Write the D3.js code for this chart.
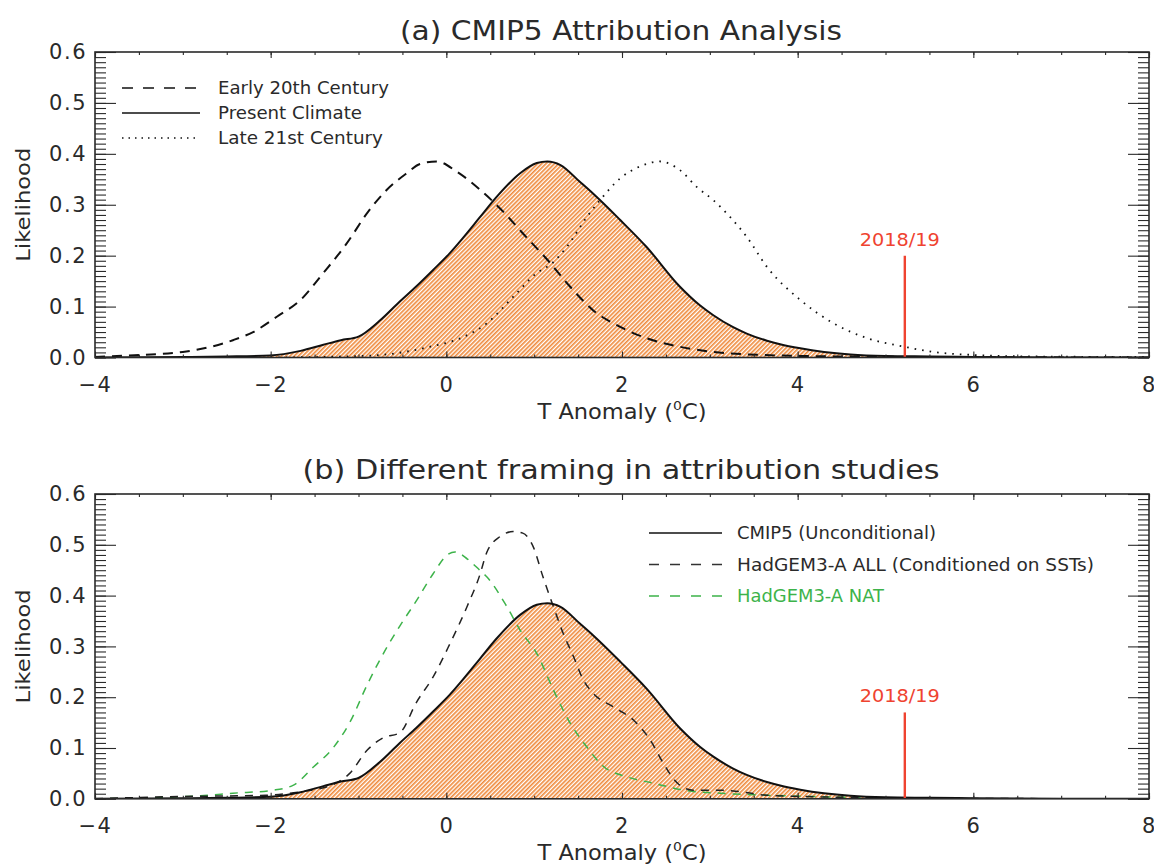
<!DOCTYPE html>
<html><head><meta charset="utf-8">
<script src="https://cdn.jsdelivr.net/npm/d3@7"></script>
<style>
body{margin:0;background:#fff;}
svg text{font-family:"DejaVu Sans",sans-serif;fill:#2a2a2a;}
</style></head>
<body><svg id="c" width="1154" height="867"></svg>
<script>
// ---------- data ----------
const xTicks = [-4, -2, 0, 2, 4, 6, 8];
const yTicks = [0, 0.1, 0.2, 0.3, 0.4, 0.5, 0.6];
const eventX = 5.22;
const eventLabel = "2018/19";

const presentX = [-4, -3, -2.5, -2, -1.66, -1.4, -1.2, -1.0, -0.76, -0.53, -0.34, -0.15, 0.04, 0.19, 0.38, 0.57, 0.84, 1.03, 1.15, 1.3, 1.52, 1.67, 1.98, 2.28, 2.66, 2.89, 3.04, 3.26, 3.42, 3.65, 3.8, 4.03, 4.3, 4.6, 5.0, 5.5, 6.0, 7.0, 8.0];
const presentY = [0, 0.001, 0.002, 0.004, 0.013, 0.025, 0.034, 0.041, 0.072, 0.11, 0.14, 0.172, 0.205, 0.235, 0.275, 0.315, 0.362, 0.382, 0.385, 0.378, 0.345, 0.322, 0.27, 0.217, 0.139, 0.102, 0.083, 0.06, 0.047, 0.033, 0.026, 0.018, 0.011, 0.006, 0.003, 0.002, 0.001, 0, 0];

const earlyX = [-4, -3.75, -3.0, -2.43, -2.2, -1.93, -1.66, -1.4, -1.13, -0.9, -0.68, -0.45, -0.3, -0.11, 0.12, 0.38, 0.65, 0.87, 1.15, 1.41, 1.67, 1.98, 2.28, 2.66, 3.04, 3.6, 4.5, 5.5, 8];
const earlyY = [0.001, 0.003, 0.011, 0.034, 0.05, 0.08, 0.113, 0.166, 0.225, 0.284, 0.329, 0.362, 0.38, 0.385, 0.365, 0.33, 0.286, 0.244, 0.192, 0.139, 0.093, 0.06, 0.038, 0.021, 0.011, 0.005, 0.002, 0.001, 0];

const lateX = [-2, -1.2, -0.75, -0.19, 0.19, 0.46, 0.76, 1.03, 1.21, 1.37, 1.6, 1.75, 1.98, 2.2, 2.43, 2.66, 2.85, 3.04, 3.23, 3.42, 3.65, 4.03, 4.4, 4.79, 5.22, 5.54, 6.0, 6.7, 8];
const lateY = [0, 0.002, 0.005, 0.021, 0.04, 0.067, 0.119, 0.166, 0.186, 0.217, 0.276, 0.309, 0.352, 0.375, 0.385, 0.368, 0.335, 0.309, 0.276, 0.237, 0.178, 0.113, 0.068, 0.038, 0.021, 0.011, 0.005, 0.002, 0.001];

const allX = [-4, -3.2, -2.05, -1.66, -1.29, -1.1, -0.9, -0.72, -0.53, -0.34, -0.15, 0.04, 0.24, 0.38, 0.46, 0.61, 0.76, 0.87, 0.99, 1.1, 1.22, 1.33, 1.45, 1.56, 1.67, 1.9, 2.13, 2.32, 2.47, 2.63, 2.81, 3.12, 3.34, 3.65, 4.5, 5.5, 8];
const allY = [0, 0.004, 0.007, 0.014, 0.028, 0.05, 0.096, 0.12, 0.13, 0.19, 0.24, 0.305, 0.38, 0.44, 0.485, 0.516, 0.526, 0.523, 0.496, 0.437, 0.378, 0.326, 0.279, 0.234, 0.208, 0.181, 0.155, 0.116, 0.07, 0.031, 0.017, 0.017, 0.014, 0.007, 0.003, 0.001, 0];

const natX = [-4, -2.8, -2.43, -1.97, -1.74, -1.51, -1.29, -1.1, -0.9, -0.72, -0.53, -0.34, -0.15, 0.01, 0.1, 0.24, 0.38, 0.46, 0.69, 0.84, 1.03, 1.22, 1.41, 1.6, 1.78, 2.06, 2.35, 2.74, 3.12, 3.65, 5, 6, 8];
const natY = [0, 0.006, 0.011, 0.017, 0.027, 0.063, 0.1, 0.15, 0.225, 0.285, 0.34, 0.39, 0.443, 0.48, 0.486, 0.472, 0.45, 0.437, 0.378, 0.332, 0.286, 0.214, 0.149, 0.102, 0.065, 0.043, 0.031, 0.016, 0.011, 0.007, 0.002, 0, 0];

const titleA = "(a) CMIP5 Attribution Analysis";
const titleB = "(b) Different framing in attribution studies";
const legendA = ["Early 20th Century", "Present Climate", "Late 21st Century"];
const legendB = ["CMIP5 (Unconditional)", "HadGEM3-A ALL (Conditioned on SSTs)", "HadGEM3-A NAT"];

// ---------- drawing ----------
const svg = d3.select("#c");
const L = 95, R = 1149;
const ORANGE = "#ef8a3c", RED = "#ef4330", GREEN = "#3db34a", INK = "#2a2a2a";

const defs = svg.append("defs");
const pat = defs.append("pattern").attr("id","hatch").attr("patternUnits","userSpaceOnUse")
  .attr("width",3).attr("height",3).attr("patternTransform","rotate(45)");
pat.append("rect").attr("width",3).attr("height",3).attr("fill","#fff");
pat.append("line").attr("x1",0.8).attr("y1",0).attr("x2",0.8).attr("y2",3)
  .attr("stroke",ORANGE).attr("stroke-width",1.7);

const x = d3.scaleLinear().domain([-4, 8]).range([L, R]);
const zip = (xs, ys) => xs.map((v,i)=>[v, ys[i]]);

function panel(id, top, bottom, opts){
  const y = d3.scaleLinear().domain([0, 0.6]).range([bottom, top]);
  const g = svg.append("g");
  defs.append("clipPath").attr("id","clip"+id).append("rect")
    .attr("x",L).attr("y",top).attr("width",R-L).attr("height",bottom-top);
  const plot = g.append("g").attr("clip-path",`url(#clip${id})`);
  const line = d3.line().x(d=>x(d[0])).y(d=>y(d[1])).curve(d3.curveMonotoneX);
  const area = d3.area().x(d=>x(d[0])).y0(y(0)).y1(d=>y(d[1])).curve(d3.curveMonotoneX);
  const present = zip(presentX, presentY);
  plot.append("path").attr("d", area(present)).attr("fill","url(#hatch)");

  opts.series.forEach(s=>{
    plot.append("path").attr("d", line(zip(s.x, s.y))).attr("fill","none")
      .attr("stroke", s.color).attr("stroke-width", s.w).attr("stroke-dasharray", s.dash || null);
  });

  // event marker
  plot.append("line").attr("x1",x(eventX)).attr("x2",x(eventX))
    .attr("y1",y(0)).attr("y2",y(opts.eventTop)).attr("stroke",RED).attr("stroke-width",2.4);
  g.append("text").attr("x",x(eventX)-5).attr("y",opts.eventLabelY).attr("text-anchor","middle")
    .style("fill",RED).style("font-size","17px").attr("textLength",80).attr("lengthAdjust","spacingAndGlyphs").text(eventLabel);

  // axes ticks
  const minorY = d3.range(0, 0.6001, 0.01);
  const minorX = d3.range(-4, 8.001, 0.5);
  const noFmt = ()=>"";
  const axY1 = g.append("g").attr("transform",`translate(${L},0)`)
    .call(d3.axisLeft(y).tickValues(minorY).tickSize(-11).tickFormat(noFmt));
  const axY2 = g.append("g").attr("transform",`translate(${L},0)`)
    .call(d3.axisLeft(y).tickValues(yTicks).tickSize(-21).tickFormat(noFmt));
  const axY3 = g.append("g").attr("transform",`translate(${R},0)`)
    .call(d3.axisRight(y).tickValues(minorY).tickSize(-11).tickFormat(noFmt));
  const axY4 = g.append("g").attr("transform",`translate(${R},0)`)
    .call(d3.axisRight(y).tickValues(yTicks).tickSize(-21).tickFormat(noFmt));
  const axYL = g.append("g").attr("transform",`translate(${L},0)`)
    .call(d3.axisLeft(y).tickValues(yTicks).tickSize(0).tickPadding(8).tickFormat(d3.format(".1f")));
  const axX1 = g.append("g").attr("transform",`translate(0,${bottom})`)
    .call(d3.axisBottom(x).tickValues(minorX).tickSize(-3).tickFormat(noFmt));
  const axX2 = g.append("g").attr("transform",`translate(0,${bottom})`)
    .call(d3.axisBottom(x).tickValues(xTicks).tickSize(-6).tickFormat(noFmt));
  const axX3 = g.append("g").attr("transform",`translate(0,${top})`)
    .call(d3.axisTop(x).tickValues(minorX).tickSize(-3).tickFormat(noFmt));
  const axX4 = g.append("g").attr("transform",`translate(0,${top})`)
    .call(d3.axisTop(x).tickValues(xTicks).tickSize(-6).tickFormat(noFmt));
  const axXL = g.append("g").attr("transform",`translate(0,${bottom})`)
    .call(d3.axisBottom(x).tickValues(xTicks).tickSize(0).tickPadding(19.5).tickFormat(d3.format("d")));
  [axY1,axY2,axY3,axY4,axYL,axX1,axX2,axX3,axX4,axXL].forEach(a=>{
    a.select(".domain").remove();
    a.selectAll("line").attr("stroke",INK).attr("stroke-width",1.1);
  });
  [axYL, axXL].forEach(a=>a.selectAll("text").style("font-size","21px").style("letter-spacing","1.5px")
    .style("font-family","DejaVu Sans, sans-serif").attr("fill",INK));

  g.append("rect").attr("x",L).attr("y",top).attr("width",R-L).attr("height",bottom-top)
    .attr("fill","none").attr("stroke",INK).attr("stroke-width",1.6);

  // titles
  g.append("text").attr("x",621).attr("y",opts.titleY).attr("text-anchor","middle")
    .style("font-size","26px").attr("textLength",opts.titleW).attr("lengthAdjust","spacingAndGlyphs").text(opts.title);
  const xl = g.append("text").attr("x",622).attr("y",bottom+61.5).attr("text-anchor","middle")
    .style("font-size","21px").attr("textLength",169).attr("lengthAdjust","spacingAndGlyphs");
  xl.append("tspan").text("T Anomaly (");
  xl.append("tspan").attr("dy",-9).style("font-size","13px").text("0");
  xl.append("tspan").attr("dy",9).text("C)");
  g.append("text").attr("transform",`translate(30,${(top+bottom)/2}) rotate(-90)`).attr("text-anchor","middle")
    .style("font-size","20px").attr("textLength",114).attr("lengthAdjust","spacingAndGlyphs").text("Likelihood");

  // legend
  opts.legend.forEach((it,i)=>{
    const yy = opts.legY + i*opts.legDy;
    g.append("line").attr("x1",opts.legX1).attr("x2",opts.legX2).attr("y1",yy).attr("y2",yy)
      .attr("stroke",it.color).attr("stroke-width",it.w).attr("stroke-dasharray",it.dash||null);
    g.append("text").attr("x",opts.legTx).attr("y",yy+6).style("font-size","17px")
      .style("fill",it.textColor||INK)
      .attr("textLength",it.tw).attr("lengthAdjust","spacingAndGlyphs").text(it.label);
  });
}

panel("a", 52, 357.5, {
  title: titleA, titleY: 40, titleW: 442,
  eventTop: 0.2, eventLabelY: 246,
  series: [
    {x: presentX, y: presentY, color:"#111", w:2},
    {x: earlyX, y: earlyY, color:"#111", w:2, dash:"10,7"},
    {x: lateX, y: lateY, color:"#111", w:1.8, dash:"1.6,6"}
  ],
  legX1:122, legX2:200, legTx:218, legY:88, legDy:25,
  legend: [
    {label:legendA[0], color:"#111", w:1.6, dash:"11,10", tw:171},
    {label:legendA[1], color:"#111", w:1.6, tw:144},
    {label:legendA[2], color:"#111", w:1.6, dash:"1.5,5", tw:165}
  ]
});

panel("b", 494, 798.8, {
  title: titleB, titleY: 479, titleW: 637,
  eventTop: 0.17, eventLabelY: 702,
  series: [
    {x: natX, y: natY, color:GREEN, w:1.5, dash:"8,7"},
    {x: allX, y: allY, color:"#222", w:1.5, dash:"8,7"},
    {x: presentX, y: presentY, color:"#111", w:2}
  ],
  legX1:649, legX2:722, legTx:737, legY:533, legDy:31.5,
  legend: [
    {label:legendB[0], color:"#111", w:1.6, tw:199},
    {label:legendB[1], color:"#333", w:1.6, dash:"10,11", tw:357},
    {label:legendB[2], color:GREEN, w:1.6, dash:"10,11", tw:147, textColor:GREEN}
  ]
});
</script></body></html>
